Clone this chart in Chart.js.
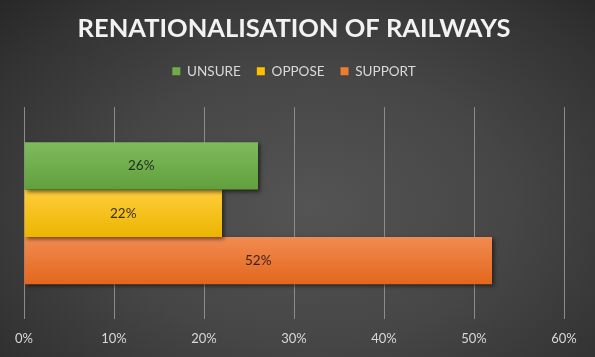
<!DOCTYPE html>
<html>
<head>
<meta charset="utf-8">
<script src="https://cdn.jsdelivr.net/npm/chart.js@4/dist/chart.umd.min.js"></script>
<style>
  html, body { margin: 0; padding: 0; }
  body {
    width: 595px; height: 357px; overflow: hidden;
    background: radial-gradient(ellipse 75% 85% at 52% 58%, #545454 0%, #464646 45%, #333333 80%, #262626 100%);
  }
  #wrap { position: relative; width: 595px; height: 357px; }
</style>
</head>
<body>
<div id="wrap"><canvas id="c" width="595" height="357"></canvas></div>
<script>
const categories = ['Renationalisation'];
const seriesNames = ['UNSURE', 'OPPOSE', 'SUPPORT'];
const unsureValues = [26];
const opposeValues = [22];
const supportValues = [52];
const xTicks = [0, 10, 20, 30, 40, 50, 60];

const legendColors = ['#70ad47', '#ffc000', '#ed7d31'];
const gradTop = ['#7fbb5e', '#ffcd3c', '#f18b52'];
const gradBottom = ['#61a03c', '#ebb500', '#e3671c'];
const CAT_PCT = 0.67;

function barGradient(i) {
  return function (ctx) {
    const chart = ctx.chart;
    const area = chart.chartArea;
    if (!area) return legendColors[i];
    const band = area.bottom - area.top;
    const barH = band * CAT_PCT / 3;
    const start = area.top + band * (1 - CAT_PCT) / 2 + i * barH;
    const g = chart.ctx.createLinearGradient(0, start, 0, start + barH);
    g.addColorStop(0, gradTop[i]);
    g.addColorStop(1, gradBottom[i]);
    return g;
  };
}

const shadowPlugin = {
  id: 'barShadow',
  beforeDatasetsDraw(chart) {
    const c = chart.ctx;
    c.save();
    c.shadowColor = 'rgba(0,0,0,0.55)';
    c.shadowBlur = 4;
    c.shadowOffsetX = 2;
    c.shadowOffsetY = 2;
  },
  afterDatasetsDraw(chart) {
    chart.ctx.restore();
  }
};

const labelPlugin = {
  id: 'barLabels',
  afterDatasetsDraw(chart) {
    const c = chart.ctx;
    c.save();
    c.font = '13.5px Lato, "Open Sans", sans-serif';
    c.fillStyle = 'rgba(20,20,20,0.85)';
    c.textAlign = 'center';
    c.textBaseline = 'middle';
    chart.data.datasets.forEach((ds, di) => {
      const meta = chart.getDatasetMeta(di);
      meta.data.forEach((el, j) => {
        const v = ds.data[j];
        c.fillText(v + '%', (el.base + el.x) / 2, el.y);
      });
    });
    c.restore();
  }
};

new Chart(document.getElementById('c'), {
  type: 'bar',
  data: {
    labels: categories,
    datasets: [
      { label: seriesNames[0], data: unsureValues, backgroundColor: barGradient(0) },
      { label: seriesNames[1], data: opposeValues, backgroundColor: barGradient(1) },
      { label: seriesNames[2], data: supportValues, backgroundColor: barGradient(2) }
    ]
  },
  options: {
    indexAxis: 'y',
    responsive: false,
    animation: false,
    devicePixelRatio: 1,
    layout: { padding: { left: 24, right: 31, top: 0, bottom: -2 } },
    datasets: { bar: { categoryPercentage: CAT_PCT, barPercentage: 1, borderWidth: 0 } },
    plugins: {
      title: {
        display: true,
        text: 'RENATIONALISATION OF RAILWAYS',
        color: '#f2f2f2',
        font: { family: 'Lato, "Open Sans", sans-serif', size: 25.5, weight: 'bold' },
        padding: { top: 13, bottom: 5 }
      },
      legend: {
        display: true,
        labels: {
          color: '#d9d9d9',
          font: { family: 'Lato, "Open Sans", sans-serif', size: 13.5 },
          boxWidth: 8, boxHeight: 8, padding: 16,
          generateLabels(chart) {
            return seriesNames.map((n, i) => ({
              text: n, fillStyle: legendColors[i], strokeStyle: legendColors[i],
              lineWidth: 0, datasetIndex: i, fontColor: '#d9d9d9'
            }));
          }
        }
      },
      tooltip: { enabled: false }
    },
    scales: {
      x: {
        min: 0, max: 60,
        afterBuildTicks(scale) { scale.ticks = xTicks.map(v => ({ value: v })); },
        grid: { color: '#8c8c8c', lineWidth: 1, drawTicks: false },
        border: { display: false },
        ticks: {
          color: '#d9d9d9',
          font: { family: 'Lato, "Open Sans", sans-serif', size: 13 },
          padding: 12,
          callback: v => v + '%'
        }
      },
      xTopSpacer: {
        type: 'linear',
        axis: 'x',
        position: 'top',
        min: 0, max: 60,
        grid: { display: false, drawTicks: false },
        border: { display: false },
        ticks: { display: false },
        afterFit(scale) { scale.height = 19; }
      },
      y: {
        display: false,
        grid: { display: false }
      }
    }
  },
  plugins: [shadowPlugin, labelPlugin]
});
</script>
</body>
</html>
